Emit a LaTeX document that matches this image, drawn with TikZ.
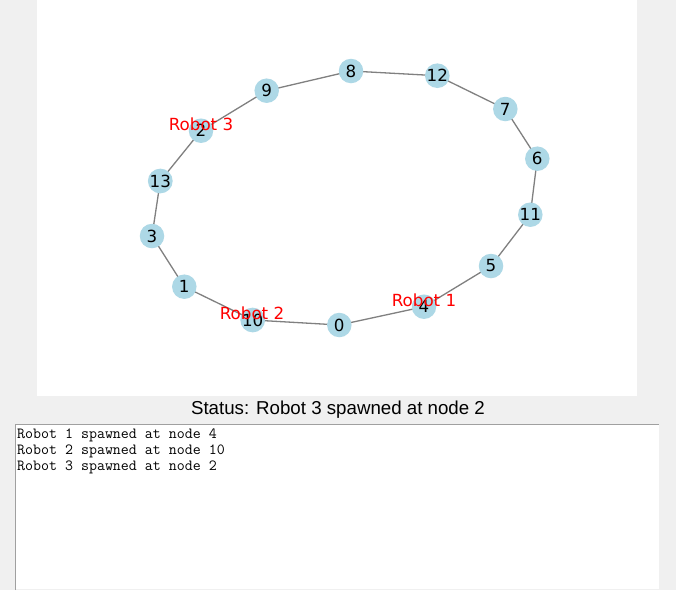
\documentclass[tikz,border=0pt]{standalone}
\usepackage{fontspec}
\setmainfont{DejaVu Sans}
\newfontfamily\statusfont{Liberation Sans}
\pgfdeclarelayer{bg}
\pgfdeclarelayer{edgelayer}
\pgfsetlayers{bg,edgelayer,main}
\definecolor{winbg}{HTML}{F0F0F0}
\definecolor{nodeblue}{HTML}{ADD8E6}
\definecolor{edgegray}{HTML}{808080}
\definecolor{boxline}{HTML}{A0A0A0}
\tikzset{
  vtx/.style={circle, fill=nodeblue, minimum size=24.5pt, inner sep=0pt, font=\fontsize{16.7}{16.7}\selectfont},
  edge/.style={draw=edgegray, line width=1.3pt},
  robotlbl/.style={text=red, inner sep=0pt, font=\fontsize{16.7}{16.7}\selectfont},
  loglbl/.style={anchor=base west, inner sep=0pt, font=\ttfamily\fontsize{15.5}{15.5}\selectfont}
}
\begin{document}
\begin{tikzpicture}[x=1pt,y=-1pt]
\useasboundingbox (0,0) rectangle (676,590);
\begin{pgfonlayer}{bg}
  \fill[winbg] (0,0) rectangle (676,590);
  \fill[white] (37,0) rectangle (637,395.7);
  \fill[white] (15,424) rectangle (659,588.5);
  \draw[boxline, line width=1pt] (15.5,590) -- (15.5,424.5) -- (659,424.5);
\end{pgfonlayer}
\node[vtx] (n8)  at (351,71) {8};
\node[vtx] (n12) at (437.3,75.7) {12};
\node[vtx] (n7)  at (505.3,109) {7};
\node[vtx] (n6)  at (537.3,158.7) {6};
\node[vtx] (n11) at (530.3,214.7) {11};
\node[vtx] (n5)  at (491,266) {5};
\node[vtx] (n4)  at (424,306.7) {4};
\node[vtx] (n0)  at (339.3,325) {0};
\node[vtx] (n10) at (252.7,320) {10};
\node[vtx] (n1)  at (184.3,286.7) {1};
\node[vtx] (n3)  at (152,236) {3};
\node[vtx] (n13) at (160.3,181) {13};
\node[vtx] (n2)  at (201,130.7) {2};
\node[vtx] (n9)  at (266.7,90.7) {9};
\begin{pgfonlayer}{edgelayer}
  \foreach \a/\b in {n8/n12,n12/n7,n7/n6,n6/n11,n11/n5,n5/n4,n4/n0,n0/n10,n10/n1,n1/n3,n3/n13,n13/n2,n2/n9,n9/n8}
    \draw[edge] (\a.center) -- (\b.center);
\end{pgfonlayer}
\node[robotlbl] (r1) at (424,300.2) {Robot 1};
\node[robotlbl] (r2) at (252,313.5) {Robot 2};
\node[robotlbl] (r3) at (201,124.2) {Robot 3};
\node[inner sep=0pt, font=\statusfont\fontsize{18.7}{18.7}\selectfont] (status) at (338,410) {Status: Robot 3 spawned at node 2};
\node[loglbl] (l1) at (17,438.5) {Robot 1 spawned at node 4};
\node[loglbl] (l2) at (17,454.5) {Robot 2 spawned at node 10};
\node[loglbl] (l3) at (17,470.5) {Robot 3 spawned at node 2};
\end{tikzpicture}
\end{document}
